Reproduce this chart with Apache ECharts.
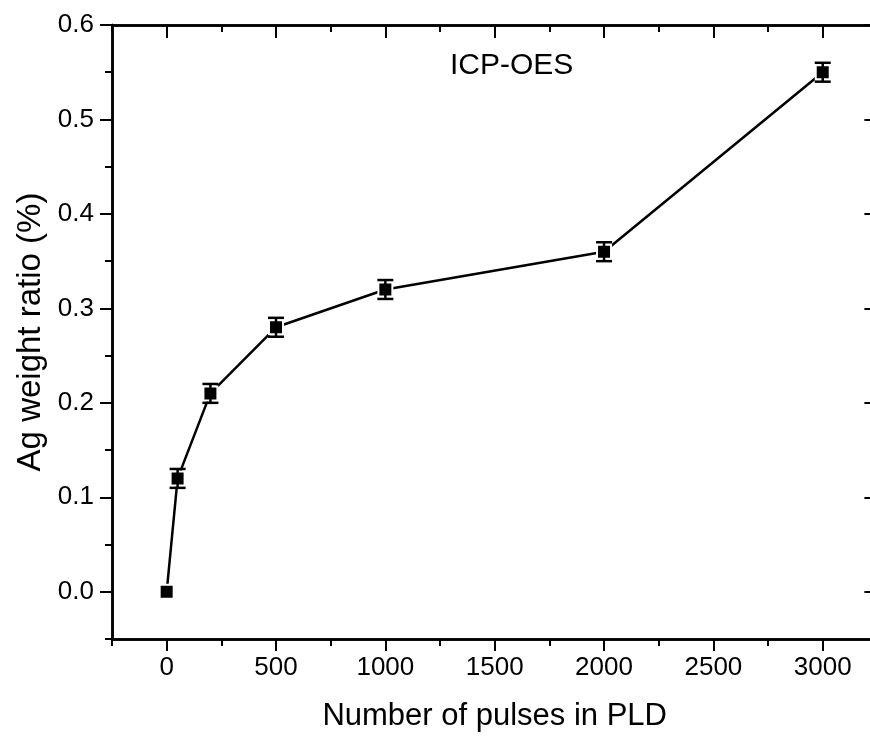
<!DOCTYPE html>
<html>
<head>
<meta charset="utf-8">
<script src="https://cdn.jsdelivr.net/npm/echarts@6/dist/echarts.min.js"></script>
<style>
  html, body { margin: 0; padding: 0; background: #fff; overflow: hidden; }
  /* the frame's right edge sits just past the visible area */
  #wrap { width: 870px; height: 737px; overflow: hidden; }
  #chart { width: 880px; height: 737px; }
</style>
</head>
<body>
<div id="wrap"><div id="chart"></div></div>
<script>
// Ag content measured by ICP-OES versus number of PLD pulses
const pulses = [0, 50, 200, 500, 1000, 2000, 3000];
const agRatio = [0, 0.12, 0.21, 0.28, 0.32, 0.36, 0.55];
const agError = [0, 0.01, 0.01, 0.01, 0.01, 0.01, 0.01];

const xMajorTicks = [0, 500, 1000, 1500, 2000, 2500, 3000];
const xMinorTicks = [-250, 250, 750, 1250, 1750, 2250, 2750, 3250];
const yMajorTicks = [0, 0.1, 0.2, 0.3, 0.4, 0.5, 0.6];
const yMinorTicks = [-0.05, 0.05, 0.15, 0.25, 0.35, 0.45, 0.55];

const FONT = 'Arial, "Liberation Sans", sans-serif';
const X_MIN = -250, X_MAX = 3250, Y_MIN = -0.05, Y_MAX = 0.6;

const chart = echarts.init(document.getElementById('chart'), null, { renderer: 'canvas' });

const lineStyle = { color: '#000', width: 2.5 };

function xAxisDef(position, ticks, len, inside, extra) {
  return Object.assign({
    type: 'value', position: position, min: X_MIN, max: X_MAX,
    axisLine: { show: true, onZero: false, lineStyle: lineStyle },
    axisTick: { show: true, inside: inside, length: len, customValues: ticks, lineStyle: { color: '#000', width: 2 } },
    axisLabel: { show: false },
    splitLine: { show: false }
  }, extra || {});
}
function yAxisDef(position, ticks, len, inside, extra) {
  return Object.assign({
    type: 'value', position: position, min: Y_MIN, max: Y_MAX,
    axisLine: { show: true, onZero: false, lineStyle: lineStyle },
    axisTick: { show: true, inside: inside, length: len, customValues: ticks, lineStyle: { color: '#000', width: 2 } },
    axisLabel: { show: false },
    splitLine: { show: false }
  }, extra || {});
}

const points = pulses.map((p, i) => [p, agRatio[i]]);
const errData = pulses.map((p, i) => [p, agRatio[i] - agError[i], agRatio[i] + agError[i]]);

chart.setOption({
  animation: false,
  backgroundColor: '#fff',
  title: {
    text: 'ICP-OES',
    left: 445, top: 46,
    textStyle: { fontFamily: FONT, fontSize: 30, fontWeight: 'normal', color: '#000' }
  },
  grid: { left: 112, right: 2.6, top: 25, bottom: 95, containLabel: false },
  xAxis: [
    xAxisDef('bottom', xMajorTicks, 12, false, {
      name: 'Number of pulses in PLD',
      nameLocation: 'middle',
      nameGap: 62,
      nameTextStyle: { fontFamily: FONT, fontSize: 31, color: '#000' },
      axisLabel: {
        show: true, customValues: xMajorTicks, margin: 16,
        fontFamily: FONT, fontSize: 26, color: '#000',
        formatter: v => String(v)
      }
    }),
    xAxisDef('bottom', xMinorTicks, 7, false),
    xAxisDef('top', xMajorTicks, 13, true),
    xAxisDef('top', xMinorTicks, 7, true)
  ],
  yAxis: [
    yAxisDef('left', yMajorTicks, 12, false, {
      name: 'Ag weight ratio (%)',
      nameLocation: 'middle',
      nameGap: 62,
      nameTextStyle: { fontFamily: FONT, fontSize: 33, color: '#000' },
      axisLabel: {
        show: true, customValues: yMajorTicks, margin: 18,
        fontFamily: FONT, fontSize: 26, color: '#000',
        formatter: v => v.toFixed(1)
      }
    }),
    yAxisDef('left', yMinorTicks, 7, false),
    yAxisDef('right', yMajorTicks, 13, true),
    yAxisDef('right', yMinorTicks, 7, true)
  ],
  series: [
    {
      type: 'line',
      data: points,
      xAxisIndex: 0, yAxisIndex: 0,
      symbol: 'rect',
      symbolSize: 14,
      lineStyle: { color: '#000', width: 2.5 },
      itemStyle: { color: '#000', borderColor: '#fff', borderWidth: 2 },
      z: 3
    },
    {
      // error bars with caps
      type: 'custom',
      xAxisIndex: 0, yAxisIndex: 0,
      data: errData,
      z: 4,
      renderItem: function (params, api) {
        const x = api.value(0);
        const lo = api.coord([x, api.value(1)]);
        const hi = api.coord([x, api.value(2)]);
        if (Math.abs(lo[1] - hi[1]) < 0.5) return null;
        const half = 8;
        const style = { stroke: '#000', lineWidth: 2.5 };
        return {
          type: 'group',
          children: [
            { type: 'line', shape: { x1: lo[0], y1: lo[1], x2: hi[0], y2: hi[1] }, style: style },
            { type: 'line', shape: { x1: lo[0] - half, y1: lo[1], x2: lo[0] + half, y2: lo[1] }, style: style },
            { type: 'line', shape: { x1: hi[0] - half, y1: hi[1], x2: hi[0] + half, y2: hi[1] }, style: style }
          ]
        };
      }
    }
  ]
});
</script>
</body>
</html>
